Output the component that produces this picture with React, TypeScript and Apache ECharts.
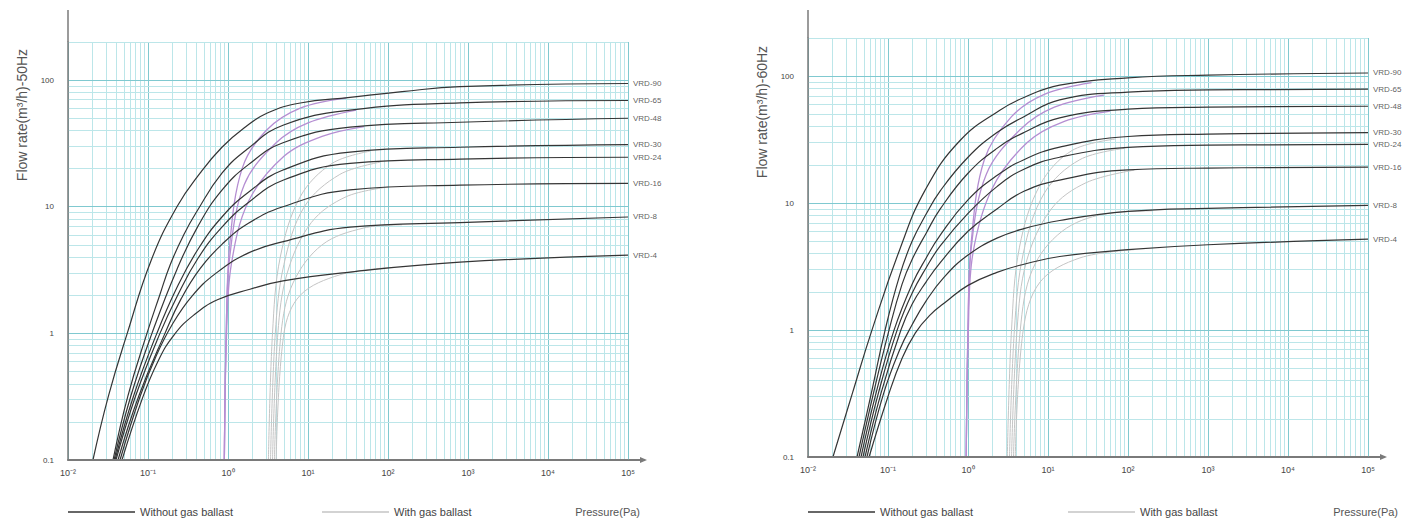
import React, { useEffect, useRef } from 'react';
import * as echarts from 'echarts';

// ---------- data ----------
const models = ['VRD-90', 'VRD-65', 'VRD-48', 'VRD-30', 'VRD-24', 'VRD-16', 'VRD-8', 'VRD-4'];
const xTickLabels = ['10⁻²', '10⁻¹', '10⁰', '10¹', '10²', '10³', '10⁴', '10⁵'];
const yTickLabels = ['0.1', '1', '10', '100'];
const gridMultipliers = [1, 2, 3, 4, 5, 6, 7, 8, 9];
const xDecades = [-2, -1, 0, 1, 2, 3, 4, 5];
const yDecades = [-1, 0, 1, 2];

// [pressure Pa, flow m3/h] — 50 Hz, without gas ballast
const vrd90_50 = [[0.0205, 0.1], [0.032, 0.32], [0.055, 1], [0.11, 3.8], [0.23, 10], [0.45, 18.5], [0.84, 29.5], [1.6, 42], [3.1, 55], [8, 66], [33.5, 73], [150, 81], [794, 89], [100000, 94]];
const vrd65_50 = [[0.0365, 0.1], [0.056, 0.32], [0.097, 1], [0.14, 2], [0.19, 3.5], [0.28, 6], [0.4, 9], [0.84, 18.4], [1.8, 29], [4.87, 44], [33.5, 58], [794, 66], [100000, 69]];
const vrd48_50 = [[0.0376, 0.1], [0.061, 0.32], [0.112, 1], [0.23, 3.2], [0.42, 7], [0.84, 13.5], [1.8, 21.5], [4.87, 32], [33.5, 42.5], [794, 46.5], [100000, 50]];
const vrd30_50 = [[0.0387, 0.1], [0.066, 0.32], [0.129, 1], [0.23, 2.3], [0.42, 4.6], [0.84, 8.3], [1.8, 13], [4.87, 19.5], [33.5, 27], [794, 29.5], [100000, 31]];
const vrd24_50 = [[0.0398, 0.1], [0.07, 0.32], [0.141, 1], [0.23, 1.95], [0.42, 3.9], [0.84, 6.9], [1.8, 10.8], [4.87, 16.2], [33.5, 22], [794, 23.8], [100000, 24.6]];
const vrd16_50 = [[0.0422, 0.1], [0.0767, 0.32], [0.163, 1], [0.26, 1.88], [0.45, 3.26], [0.84, 5.05], [1.8, 7.4], [4.87, 10], [33.5, 13.6], [794, 14.8], [100000, 15.3]];
const vrd8_50 = [[0.0447, 0.1], [0.0794, 0.316], [0.126, 0.66], [0.2, 1.17], [0.355, 1.97], [0.71, 2.99], [1.78, 4.3], [4.9, 5.3], [33.5, 6.9], [794, 7.5], [100000, 8.3]];
const vrd4_50 = [[0.0473, 0.1], [0.084, 0.3], [0.133, 0.6], [0.211, 0.97], [0.376, 1.4], [0.75, 1.85], [1.88, 2.23], [4.87, 2.6], [33.5, 3.05], [794, 3.65], [100000, 4.15]];

// 50 Hz, with gas ballast
const vrd90_50b = [[0.9, 0.1], [0.95, 1], [1.05, 5], [1.5, 20], [3, 40], [8, 60], [30, 72]];
const vrd65_50b = [[0.9, 0.1], [0.95, 1], [1.05, 4], [1.6, 15], [4, 32], [10, 46], [40, 58]];
const vrd48_50b = [[0.9, 0.1], [0.96, 1], [1.1, 3.5], [1.8, 11], [5, 25], [15, 36], [50, 43]];
const vrd30_50b = [[3.2, 0.1], [3.6, 1], [4.5, 4], [8, 12], [20, 22], [60, 27.5]];
const vrd24_50b = [[3.4, 0.1], [3.9, 1], [5, 3.5], [9, 10], [25, 18], [80, 22.5]];
const vrd16_50b = [[3.6, 0.1], [4.2, 1], [5.5, 3], [11, 7.5], [30, 12], [100, 14.3]];
const vrd8_50b = [[3.8, 0.1], [4.6, 1], [6.5, 2.5], [15, 5], [50, 6.8], [150, 7.2]];
const vrd4_50b = [[4, 0.1], [5, 1], [8, 2], [25, 2.9], [100, 3.3]];

// 60 Hz, without gas ballast
const vrd90_60 = [[0.0205, 0.1], [0.036, 0.32], [0.063, 1], [0.14, 4.3], [0.29, 12.6], [0.79, 31], [2.5, 54], [5, 68], [14, 85], [100, 97], [1000, 102], [100000, 106]];
const vrd65_60 = [[0.041, 0.1], [0.062, 0.32], [0.092, 1], [0.14, 2.7], [0.2, 5], [0.3, 8.2], [0.45, 12.5], [1, 23], [2.3, 36], [5, 48], [14, 65], [100, 75], [1000, 78], [100000, 79]];
const vrd48_60 = [[0.0434, 0.1], [0.066, 0.32], [0.103, 1], [0.15, 2.3], [0.2, 3.6], [0.3, 5.8], [0.45, 9], [1, 17.2], [2.3, 27], [5, 36], [14, 47], [100, 55], [1000, 57], [100000, 58]];
const vrd30_60 = [[0.046, 0.1], [0.071, 0.32], [0.119, 1], [0.2, 2.3], [0.3, 3.7], [0.45, 5.6], [1, 10.6], [2.3, 16.5], [5, 22], [14, 27.6], [100, 33.5], [1000, 35], [100000, 36]];
const vrd24_60 = [[0.0487, 0.1], [0.076, 0.32], [0.13, 1], [0.2, 1.95], [0.3, 3.1], [0.45, 4.6], [1, 8.3], [2.3, 13.5], [5, 18.5], [14, 23], [100, 27.5], [1000, 28.6], [100000, 29]];
const vrd16_60 = [[0.0516, 0.1], [0.082, 0.32], [0.145, 1], [0.2, 1.6], [0.3, 2.4], [0.45, 3.4], [1, 6], [2.3, 9], [5, 12.4], [14, 15.2], [100, 18.3], [1000, 18.9], [100000, 19.2]];
const vrd8_60 = [[0.0546, 0.1], [0.088, 0.316], [0.14, 0.7], [0.2, 1.1], [0.3, 1.7], [0.5, 2.6], [1, 3.9], [2.3, 5.3], [5, 6.3], [14, 7.3], [100, 8.6], [1000, 9.1], [100000, 9.6]];
const vrd4_60 = [[0.058, 0.1], [0.1, 0.3], [0.15, 0.6], [0.22, 0.95], [0.33, 1.3], [0.55, 1.7], [1, 2.25], [2.3, 2.85], [5, 3.3], [14, 3.8], [100, 4.3], [1000, 4.7], [100000, 5.2]];

// 60 Hz, with gas ballast
const vrd90_60b = [[0.95, 0.1], [1.0, 1], [1.1, 5], [1.6, 22], [3.5, 48], [9, 72], [35, 89]];
const vrd65_60b = [[0.95, 0.1], [1.0, 1], [1.1, 4.5], [1.7, 17], [4.5, 38], [12, 57], [50, 71]];
const vrd48_60b = [[0.95, 0.1], [1.01, 1], [1.15, 4], [2, 13], [5.5, 30], [16, 44], [60, 53]];
const vrd30_60b = [[3.1, 0.1], [3.5, 1], [4.4, 4.5], [8, 14], [20, 26], [70, 32]];
const vrd24_60b = [[3.3, 0.1], [3.8, 1], [4.9, 4], [9, 12], [25, 22], [90, 27]];
const vrd16_60b = [[3.5, 0.1], [4.1, 1], [5.4, 3.5], [11, 9], [30, 14.5], [120, 18.2]];
const vrd8_60b = [[3.7, 0.1], [4.5, 1], [6.4, 3], [15, 6], [50, 8.2], [200, 8.7]];
const vrd4_60b = [[3.9, 0.1], [4.9, 1], [8, 2.4], [25, 3.7], [120, 4.3]];

const noBallast50 = [vrd90_50, vrd65_50, vrd48_50, vrd30_50, vrd24_50, vrd16_50, vrd8_50, vrd4_50];
const ballast50 = [vrd90_50b, vrd65_50b, vrd48_50b, vrd30_50b, vrd24_50b, vrd16_50b, vrd8_50b, vrd4_50b];
const noBallast60 = [vrd90_60, vrd65_60, vrd48_60, vrd30_60, vrd24_60, vrd16_60, vrd8_60, vrd4_60];
const ballast60 = [vrd90_60b, vrd65_60b, vrd48_60b, vrd30_60b, vrd24_60b, vrd16_60b, vrd8_60b, vrd4_60b];

const X_MIN = 0.01;
const X_MAX = 100000;
const Y_MIN = 0.1;
const Y_MAX = 200;

// ---------- styles ----------
const FONT = 'Liberation Sans, Arial, sans-serif';
const CURVE = '#353535';
const GRAY_B = '#c4c4c4';
const MAG_B = '#b58ed2';
const MAJOR = '#80c9d0';
const MINOR = '#bce6e9';

function gridLineValues(decades: number[], max: number) {
  const out: { v: number; major: boolean }[] = [];
  decades.forEach((d) => {
    gridMultipliers.forEach((m) => {
      const v = m * Math.pow(10, d);
      if (v <= max * 1.0001) out.push({ v, major: m === 1 });
    });
  });
  return out;
}

function buildGridSeries(g: number) {
  const xs = gridLineValues(xDecades, X_MAX).map((o) => ({
    xAxis: o.v,
    lineStyle: { color: o.major ? MAJOR : MINOR, width: 1, type: 'solid' },
  }));
  const ys = gridLineValues(yDecades, Y_MAX).map((o) => ({
    yAxis: o.v,
    lineStyle: { color: o.major ? MAJOR : MINOR, width: 1, type: 'solid' },
  }));
  return {
    type: 'line',
    name: 'grid' + g,
    xAxisIndex: g,
    yAxisIndex: g,
    data: [[1, 1]],
    symbol: 'none',
    lineStyle: { opacity: 0 },
    silent: true,
    z: 0,
    markLine: {
      silent: true,
      z: 0,
      zlevel: 0,
      symbol: ['none', 'none'],
      label: { show: false },
      animation: false,
      data: [...xs, ...ys],
    },
  };
}

function buildSeries(g: number, noBallast: number[][][], ballast: number[][][]) {
  const out: any[] = [];
  // gray ballast first (so the legend takes its colour)
  [3, 4, 5, 6, 7, 0, 1, 2].forEach((i) => {
    const magenta = i <= 2;
    out.push({
      type: 'line',
      name: 'With gas ballast',
      xAxisIndex: g,
      yAxisIndex: g,
      data: ballast[i],
      smooth: 0.35,
      symbol: 'none',
      showSymbol: false,
      silent: true,
      z: 6,
      lineStyle: { color: magenta ? MAG_B : GRAY_B, width: magenta ? 1.3 : 1 },
      itemStyle: { color: magenta ? MAG_B : GRAY_B },
    });
  });
  models.forEach((m, i) => {
    out.push({
      type: 'line',
      name: 'Without gas ballast',
      xAxisIndex: g,
      yAxisIndex: g,
      data: noBallast[i],
      smooth: 0.45,
      symbol: 'none',
      showSymbol: false,
      silent: true,
      z: 7,
      lineStyle: { color: CURVE, width: 1.2 },
      itemStyle: { color: CURVE },
    });
  });
  // end labels: one point at the last value of each curve
  out.push({
    type: 'scatter',
    name: 'labels' + g,
    xAxisIndex: g,
    yAxisIndex: g,
    silent: true,
    z: 8,
    symbolSize: 0,
    data: noBallast.map((d, i) => [d[d.length - 1][0], d[d.length - 1][1], i]),
    label: {
      show: true,
      position: 'right',
      distance: 5,
      fontSize: 8,
      color: '#333',
      fontFamily: FONT,
      formatter: (p: any) => models[p.data[2]],
    },
  });
  return out;
}

function xAxisDef(g: number) {
  return {
    type: 'log',
    logBase: 10,
    gridIndex: g,
    min: X_MIN,
    max: X_MAX,
    splitNumber: 7,
    z: 9,
    axisLine: { show: true, lineStyle: { color: '#7a7a7a', width: 2 } },
    axisTick: { show: false },
    splitLine: { show: false },
    minorSplitLine: { show: false },
    axisLabel: {
      fontSize: 9,
      color: '#444',
      margin: 8,
      fontFamily: FONT,
      formatter: (v: number) => {
        const e = Math.log10(v);
        const r = Math.round(e);
        if (Math.abs(e - r) > 1e-6) return '';
        return xTickLabels[r + 2] ?? '';
      },
    },
  };
}

function yAxisDef(g: number) {
  return {
    type: 'log',
    logBase: 10,
    gridIndex: g,
    min: Y_MIN,
    max: Y_MAX,
    splitNumber: 3,
    z: 9,
    axisLine: { show: true, lineStyle: { color: '#7a7a7a', width: 1.5 } },
    axisTick: { show: false },
    splitLine: { show: false },
    minorSplitLine: { show: false },
    axisLabel: {
      fontSize: 8,
      color: '#444',
      margin: 14,
      fontFamily: FONT,
      formatter: (v: number) => {
        const e = Math.log10(v);
        const r = Math.round(e);
        if (Math.abs(e - r) > 1e-6) return '';
        return yTickLabels[r + 1] ?? '';
      },
    },
  };
}

function legendDef(name: string, left: number) {
  return {
    data: [name],
    left,
    top: 505,
    icon: 'rect',
    itemWidth: 67,
    itemHeight: 1.5,
    selectedMode: false,
    padding: 0,
    textStyle: { fontSize: 11, color: '#444', fontFamily: FONT, lineHeight: 14 },
  };
}

export default function App() {
  const ref = useRef<HTMLDivElement>(null);
  useEffect(() => {
    if (!ref.current) return;
    const chart = echarts.init(ref.current, undefined, { renderer: 'svg' });
    const option: any = {
      animation: false,
      backgroundColor: '#ffffff',
      grid: [
        { left: 68, top: 42, width: 560, height: 418, containLabel: false, outerBoundsMode: 'none' },
        { left: 808, top: 38, width: 560, height: 419, containLabel: false, outerBoundsMode: 'none' },
      ],
      xAxis: [xAxisDef(0), xAxisDef(1)],
      yAxis: [yAxisDef(0), yAxisDef(1)],
      legend: [
        legendDef('Without gas ballast', 68),
        legendDef('With gas ballast', 322),
        legendDef('Without gas ballast', 808),
        legendDef('With gas ballast', 1068),
      ],
      series: [
        buildGridSeries(0),
        buildGridSeries(1),
        ...buildSeries(0, noBallast50, ballast50),
        ...buildSeries(1, noBallast60, ballast60),
      ],
      graphic: [
        { type: 'line', shape: { x1: 68, y1: 10, x2: 68, y2: 42 }, style: { stroke: '#7a7a7a', lineWidth: 1.5 } },
        { type: 'line', shape: { x1: 808, y1: 10, x2: 808, y2: 38 }, style: { stroke: '#7a7a7a', lineWidth: 1.5 } },
        { type: 'line', shape: { x1: 628, y1: 460, x2: 642, y2: 460 }, style: { stroke: '#7a7a7a', lineWidth: 2 } },
        { type: 'polygon', shape: { points: [[640, 457], [647, 460], [640, 463]] }, style: { fill: '#7a7a7a' } },
        { type: 'line', shape: { x1: 1368, y1: 457, x2: 1382, y2: 457 }, style: { stroke: '#7a7a7a', lineWidth: 2 } },
        { type: 'polygon', shape: { points: [[1380, 454], [1387, 457], [1380, 460]] }, style: { fill: '#7a7a7a' } },
        {
          type: 'text',
          x: 22,
          y: 115,
          rotation: Math.PI / 2,
          style: { text: 'Flow rate(m³/h)-50Hz', fontSize: 14, fill: '#555', align: 'center', verticalAlign: 'middle', fontFamily: FONT },
        },
        {
          type: 'text',
          x: 762,
          y: 112,
          rotation: Math.PI / 2,
          style: { text: 'Flow rate(m³/h)-60Hz', fontSize: 14, fill: '#555', align: 'center', verticalAlign: 'middle', fontFamily: FONT },
        },
        {
          type: 'text',
          x: 640,
          y: 512,
          style: { text: 'Pressure(Pa)', fontSize: 11, fill: '#555', align: 'right', verticalAlign: 'middle', fontFamily: FONT },
        },
        {
          type: 'text',
          x: 1398,
          y: 512,
          style: { text: 'Pressure(Pa)', fontSize: 11, fill: '#555', align: 'right', verticalAlign: 'middle', fontFamily: FONT },
        },
      ],
    };
    chart.setOption(option);
    return () => chart.dispose();
  }, []);
  return (
    <div
      ref={ref}
      style={{ position: 'fixed', left: 0, top: 0, width: 1415, height: 527, background: '#fff' }}
    />
  );
}
